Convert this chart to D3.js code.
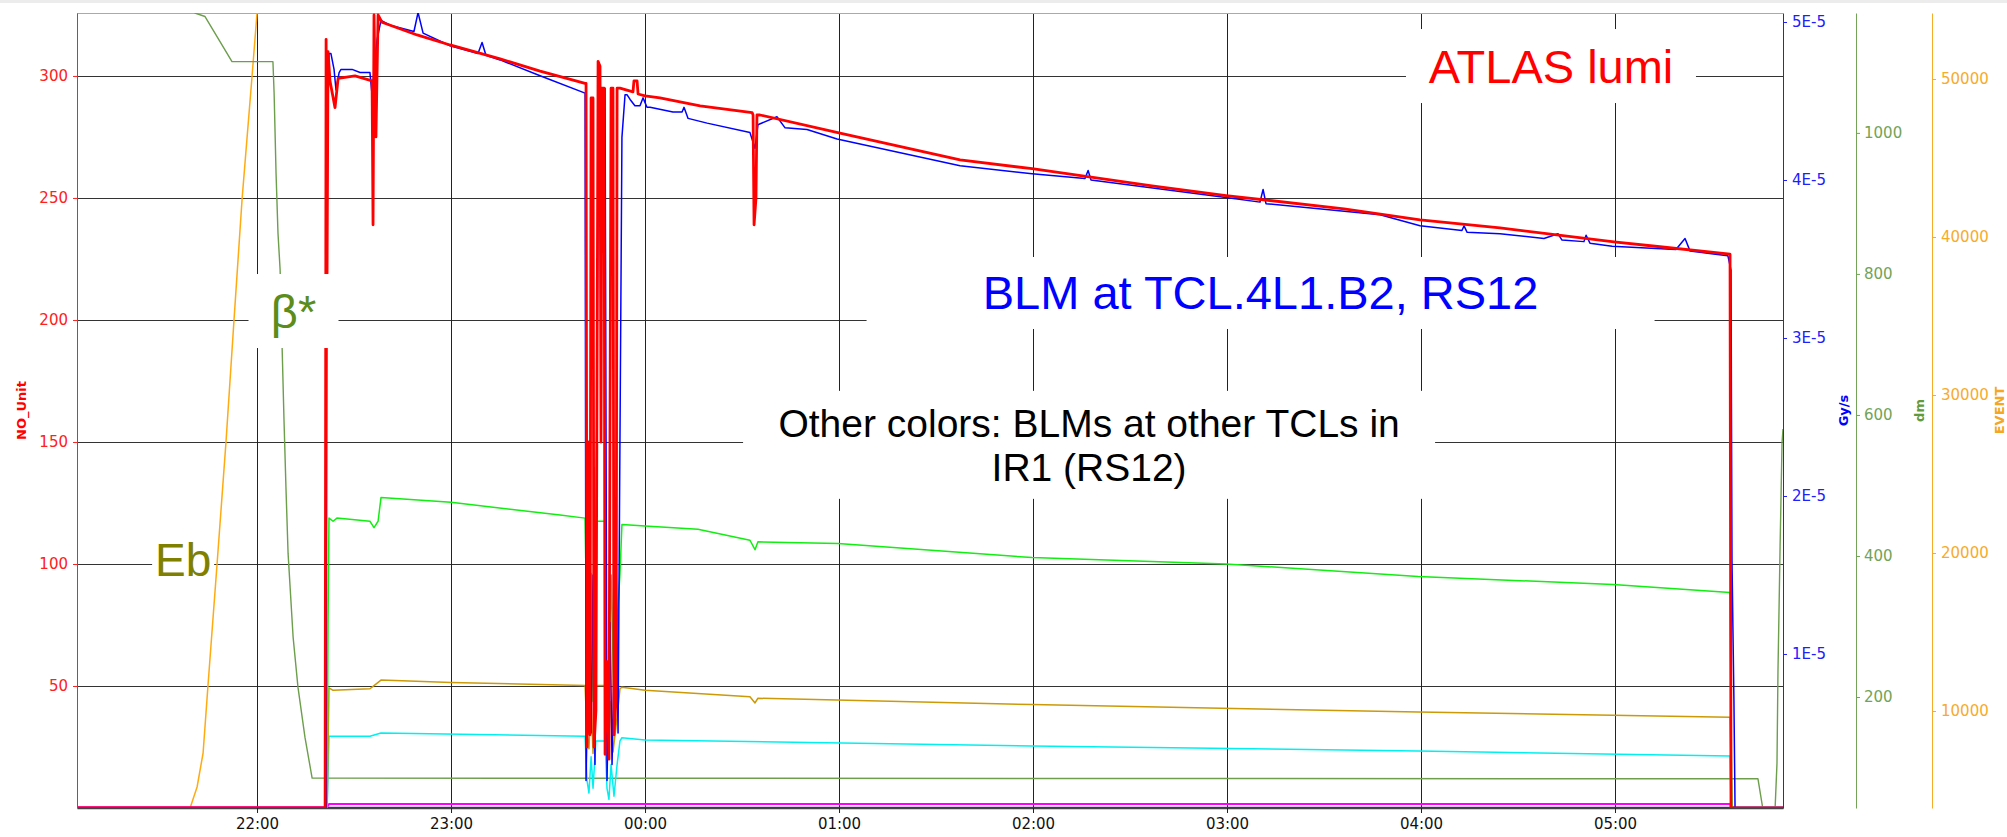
<!DOCTYPE html>
<html>
<head>
<meta charset="utf-8">
<script src="https://cdn.jsdelivr.net/npm/d3@7"></script>
<style>
  body { margin: 0; background: #fff; }
  svg { display: block; }
  .tick text { font-family: "DejaVu Sans", sans-serif; font-size: 15px; }
  .note { font-family: "Liberation Sans", Arial, sans-serif; }
  .axisTitle { font-family: "DejaVu Sans", sans-serif; font-size: 13px; font-weight: bold; }
</style>
</head>
<body>
<div id="chart"></div>
<script>
// Times are hours after midnight of the first day (24 = 00:00 next day)

// ATLAS lumi, NO_Unit (left axis)
var lumiData = [
  [21.072, 0], [22.351, 0], [22.356, 315], [22.361, 219], [22.366, 310], [22.376, 298],
  [22.402, 287], [22.418, 299], [22.505, 300], [22.593, 298], [22.598, 239], [22.603, 325],
  [22.613, 275], [22.624, 325], [22.644, 322], [22.825, 316.8], [22.995, 312.7], [23.253, 307],
  [23.459, 302], [23.691, 297], [23.696, 297], [23.701, 25], [23.711, 150], [23.716, 30],
  [23.722, 291], [23.732, 291], [23.737, 25], [23.747, 40], [23.758, 306], [23.768, 304],
  [23.773, 150], [23.778, 295], [23.789, 295], [23.794, 22], [23.804, 60], [23.814, 20],
  [23.825, 295], [23.835, 295], [23.840, 30], [23.851, 45], [23.856, 295], [23.871, 295],
  [23.938, 293.5], [23.943, 298], [23.959, 298], [23.964, 292.6], [24.000, 291.8], [24.077, 291],
  [24.284, 287.7], [24.552, 285], [24.557, 284], [24.562, 239], [24.572, 250], [24.577, 284],
  [24.593, 284], [25.005, 276.6], [25.624, 265.6], [25.995, 262], [26.613, 255], [26.995, 251],
  [27.603, 245.5], [27.995, 241], [28.407, 237.7], [28.995, 232], [29.232, 230], [29.593, 227],
  [29.598, 0], [29.866, 0]
];

// BLM at TCL.4L1.B2, in 1E-5 Gy/s (blue axis)
var blmMain = [
  [21.072, 0], [22.356, 0], [22.361, 3.66], [22.366, 4.55], [22.371, 4.80], [22.381, 4.80],
  [22.397, 4.70], [22.407, 4.57], [22.423, 4.68], [22.433, 4.70], [22.490, 4.70], [22.531, 4.68],
  [22.582, 4.68], [22.593, 4.54], [22.598, 4.62], [22.619, 4.89], [22.639, 5.01], [22.686, 4.98],
  [22.809, 4.94], [22.830, 5.06], [22.856, 4.93], [22.995, 4.85], [23.139, 4.80], [23.160, 4.87],
  [23.180, 4.79], [23.253, 4.76], [23.459, 4.66], [23.691, 4.55], [23.696, 0.2], [23.711, 1.2],
  [23.722, 0.5], [23.732, 1.5], [23.742, 0.3], [23.758, 4.0], [23.768, 4.58], [23.794, 4.58],
  [23.804, 0.2], [23.820, 1.2], [23.830, 0.3], [23.851, 1.6], [23.861, 0.5], [23.881, 4.27],
  [23.897, 4.54], [23.907, 4.54], [23.923, 4.51], [23.948, 4.47], [23.974, 4.47], [23.990, 4.52],
  [24.010, 4.46], [24.026, 4.46], [24.144, 4.43], [24.191, 4.43], [24.201, 4.46], [24.222, 4.39],
  [24.320, 4.36], [24.541, 4.30], [24.567, 4.20], [24.582, 4.35], [24.680, 4.40], [24.722, 4.33],
  [24.835, 4.32], [24.990, 4.26], [25.624, 4.09], [25.995, 4.04], [26.268, 4.01], [26.284, 4.06],
  [26.299, 4.00], [26.995, 3.89], [27.170, 3.86], [27.186, 3.94], [27.201, 3.85], [27.789, 3.78],
  [27.995, 3.71], [28.211, 3.68], [28.222, 3.71], [28.237, 3.67], [28.407, 3.66], [28.634, 3.63],
  [28.706, 3.66], [28.727, 3.62], [28.840, 3.61], [28.851, 3.65], [28.871, 3.60], [28.985, 3.58],
  [29.314, 3.56], [29.361, 3.63], [29.387, 3.55], [29.582, 3.52], [29.598, 3.43], [29.603, 1.59],
  [29.613, 0.71], [29.619, 0], [29.866, 0]
];

// BLMs at the other TCLs, in 1E-5 Gy/s (blue axis)
var blmGreen = [
  [21.072, 0], [22.361, 0], [22.366, 1.2], [22.371, 1.86], [22.392, 1.84], [22.412, 1.86],
  [22.582, 1.84], [22.603, 1.80], [22.624, 1.84], [22.639, 1.99], [23.000, 1.96], [23.562, 1.88],
  [23.691, 1.86], [23.701, 1.08], [23.711, 0.80], [23.722, 1.51], [23.732, 0.7], [23.747, 1.84],
  [23.794, 1.84], [23.799, 0.9], [23.809, 0.6], [23.825, 1.5], [23.840, 0.7], [23.856, 1.2],
  [23.871, 1.51], [23.881, 1.82], [24.000, 1.81], [24.273, 1.79], [24.541, 1.72], [24.567, 1.66],
  [24.582, 1.71], [24.995, 1.70], [25.995, 1.61], [26.995, 1.57], [27.985, 1.49], [28.990, 1.44],
  [29.593, 1.39], [29.603, 0], [29.866, 0]
];
var blmGold = [
  [21.072, 0], [22.361, 0], [22.371, 0.785], [22.392, 0.77], [22.582, 0.78], [22.603, 0.80],
  [22.639, 0.835], [23.000, 0.82], [23.691, 0.80], [23.701, 0.5], [23.711, 0.4], [23.722, 0.7],
  [23.732, 0.37], [23.747, 0.80], [23.794, 0.80], [23.804, 0.45], [23.820, 0.7], [23.835, 0.38],
  [23.856, 0.6], [23.871, 0.78], [23.881, 0.79], [24.000, 0.77], [24.541, 0.73], [24.567, 0.69],
  [24.582, 0.72], [25.995, 0.68], [27.985, 0.633], [29.593, 0.60], [29.598, 0.3], [29.603, 0],
  [29.866, 0]
];
var blmCyan = [
  [21.072, 0], [22.361, 0], [22.371, 0.48], [22.582, 0.48], [22.639, 0.50], [23.691, 0.48],
  [23.701, 0.2], [23.711, 0.12], [23.722, 0.35], [23.732, 0.15], [23.747, 0.45], [23.794, 0.45],
  [23.804, 0.15], [23.814, 0.08], [23.825, 0.3], [23.840, 0.1], [23.856, 0.3], [23.871, 0.45],
  [23.881, 0.47], [24.000, 0.456], [25.995, 0.418], [27.985, 0.386], [29.593, 0.354],
  [29.598, 0.03], [29.866, 0.03]
];
var blmMagenta = [
  [21.072, 0.03], [22.361, 0.03], [22.371, 0.05], [29.593, 0.05], [29.598, 0.03], [29.866, 0.03]
];
var blmViolet = [
  [21.072, 0.027], [29.866, 0.027]
];

// Beam energy Eb, EVENT (orange axis)
var energyData = [
  [21.072, 3861], [21.655, 3861], [21.691, 5190], [21.722, 7342], [21.747, 11582], [21.794, 19304],
  [21.840, 27025], [21.881, 34684], [21.923, 42405], [21.974, 50127], [22.000, 54177],
  [22.030, 65000], [29.866, 65000]
];

// beta*, dm (green axis)
var betaData = [
  [21.072, 1400], [21.655, 1200], [21.680, 1170], [21.732, 1165], [21.871, 1101], [22.082, 1101],
  [22.088, 1057], [22.093, 1000], [22.098, 943], [22.108, 858], [22.119, 806], [22.139, 593],
  [22.149, 498], [22.160, 404], [22.186, 285], [22.211, 214], [22.247, 143], [22.284, 85],
  [29.737, 84], [29.763, 40], [29.825, 40], [29.835, 106], [29.840, 234], [29.851, 413],
  [29.861, 560], [29.866, 580]
];

// Tick values of the four value axes
var leftTicks = [50, 100, 150, 200, 250, 300];
var blueTicks = [1, 2, 3, 4, 5];
var greenTicks = [200, 400, 600, 800, 1000];
var orangeTicks = [10000, 20000, 30000, 40000, 50000];

// Annotations placed in (time, NO_Unit) coordinates
var notes = [
  { lines: ["ATLAS lumi"], hour: 28.670, value: 297.1, color: "#ff0000", size: 47, halfWidth: 145, above: 54, below: 20 },
  { lines: ["BLM at TCL.4L1.B2, RS12"], hour: 27.173, value: 204.5, color: "#0000ff", size: 47, halfWidth: 394, above: 52, below: 20 },
  { lines: ["Other colors: BLMs at other TCLs in", "IR1 (RS12)"], hour: 26.289, value: 152.1, color: "#000000", size: 39, halfWidth: 346, above: 46, below: 62 },
  { lines: ["β*"], hour: 22.188, value: 196.7, color: "#5b8c1c", size: 47, halfWidth: 45, above: 54, below: 20 },
  { lines: ["Eb"], hour: 21.619, value: 95.1, color: "#808000", size: 46, halfWidth: 31, above: 40, below: 6 }
];

// SVG area and margins
var svgWidth = 2007;
var svgHeight = 837;
var chartMargin = { top: 13, right: 224, bottom: 29, left: 77 };
var chartWidth = svgWidth - chartMargin.left - chartMargin.right;
var chartHeight = svgHeight - chartMargin.top - chartMargin.bottom;

var baseDate = new Date(2018, 9, 24);
function toDate(h) { return new Date(baseDate.getTime() + h * 3600 * 1000); }

var svg = d3.select("#chart")
  .append("svg")
  .attr("width", svgWidth)
  .attr("height", svgHeight);

// thin grey strip along the top of the window
svg.append("rect")
  .attr("x", 0).attr("y", 0)
  .attr("width", svgWidth).attr("height", 3)
  .attr("fill", "#ececec");

var chartGroup = svg.append("g")
  .attr("transform", `translate(${chartMargin.left}, ${chartMargin.top})`);

// scales
var xScale = d3.scaleTime()
  .domain([toDate(21.072), toDate(29.866)])
  .range([0, chartWidth]);
var yLeft = d3.scaleLinear().domain([0, 325.8]).range([chartHeight, 0]);
var yBlue = d3.scaleLinear().domain([0.0253, 5.057]).range([chartHeight, 0]);
var yGreen = d3.scaleLinear().domain([42.6, 1170]).range([chartHeight, 0]);
var yOrange = d3.scaleLinear().domain([3861, 54177]).range([chartHeight, 0]);

var hourTicks = xScale.ticks(d3.timeHour.every(1));

// grid
var grid = chartGroup.append("g").attr("shape-rendering", "crispEdges");
grid.selectAll(".hgrid")
  .data(leftTicks)
  .enter()
  .append("line")
  .attr("x1", 0).attr("x2", chartWidth)
  .attr("y1", d => Math.round(yLeft(d)) + 0.5)
  .attr("y2", d => Math.round(yLeft(d)) + 0.5)
  .attr("stroke", "#333");
grid.selectAll(".vgrid")
  .data(hourTicks)
  .enter()
  .append("line")
  .attr("x1", d => Math.round(xScale(d)) + 0.5)
  .attr("x2", d => Math.round(xScale(d)) + 0.5)
  .attr("y1", 0).attr("y2", chartHeight)
  .attr("stroke", "#222");

// top border
chartGroup.append("line")
  .attr("x1", 0).attr("x2", chartWidth)
  .attr("y1", 0.5).attr("y2", 0.5)
  .attr("stroke", "#aaa");

// clip for the curves
chartGroup.append("clipPath")
  .attr("id", "plotClip")
  .append("rect")
  .attr("width", chartWidth)
  .attr("height", chartHeight);

var lines = chartGroup.append("g").attr("clip-path", "url(#plotClip)");

function drawLine(data, yScale, color, width) {
  var lineGen = d3.line()
    .x(d => xScale(toDate(d[0])))
    .y(d => yScale(d[1]));
  lines.append("path")
    .datum(data)
    .attr("d", lineGen)
    .attr("fill", "none")
    .attr("stroke", color)
    .attr("stroke-width", width)
    .attr("stroke-linejoin", "round");
}

drawLine(energyData, yOrange, "#ffaa10", 1.5);
drawLine(betaData, yGreen, "#6c9e4c", 1.4);
drawLine(blmViolet, yBlue, "#5a189a", 2);
drawLine(blmMagenta, yBlue, "#ff00ff", 2);
drawLine(blmCyan, yBlue, "#00f0f0", 1.5);
drawLine(blmGold, yBlue, "#cc9a06", 1.5);
drawLine(blmGreen, yBlue, "#11ee11", 1.5);
drawLine(blmMain, yBlue, "#0000ff", 1.5);
drawLine(lumiData, yLeft, "#ff0000", 2.8);

// axes
var bottomAxis = d3.axisBottom(xScale)
  .ticks(d3.timeHour.every(1))
  .tickFormat(d3.timeFormat("%H:%M"))
  .tickSize(5).tickSizeOuter(0).tickPadding(5);
var xAxisG = chartGroup.append("g")
  .attr("transform", `translate(0, ${chartHeight})`)
  .call(bottomAxis);
xAxisG.select(".domain").attr("stroke", "#444").attr("stroke-width", 1.5);
xAxisG.selectAll(".tick line").attr("stroke", "#222");
xAxisG.selectAll(".tick text").attr("fill", "#111");

function styleAxis(g, color) {
  g.select(".domain").attr("stroke", color);
  g.selectAll(".tick line").attr("stroke", color);
  g.selectAll(".tick text").attr("fill", color);
}

var plainFormat = d3.format("d");

var leftG = chartGroup.append("g")
  .call(d3.axisLeft(yLeft).tickValues(leftTicks).tickFormat(plainFormat)
    .tickSize(4).tickSizeOuter(0).tickPadding(5));
styleAxis(leftG, "#ff2020");

var blueG = chartGroup.append("g")
  .attr("transform", `translate(${chartWidth}, 0)`)
  .call(d3.axisRight(yBlue).tickValues(blueTicks).tickFormat(d => d + "E-5")
    .tickSize(4).tickSizeOuter(0).tickPadding(5));
styleAxis(blueG, "#2020ff");

var greenG = chartGroup.append("g")
  .attr("transform", `translate(${chartWidth + 73}, 0)`)
  .call(d3.axisRight(yGreen).tickValues(greenTicks).tickFormat(plainFormat)
    .tickSize(4).tickSizeOuter(0).tickPadding(4));
styleAxis(greenG, "#72a356");

var orangeG = chartGroup.append("g")
  .attr("transform", `translate(${chartWidth + 149}, 0)`)
  .call(d3.axisRight(yOrange).tickValues(orangeTicks).tickFormat(plainFormat)
    .tickSize(4).tickSizeOuter(0).tickPadding(5));
styleAxis(orangeG, "#f7ab2a");

// axis titles
var titles = [
  { text: "NO_Unit", x: 21, color: "#ff0000" },
  { text: "Gy/s", x: 1843, color: "#0000ff" },
  { text: "dm", x: 1919, color: "#5f9a3c" },
  { text: "EVENT", x: 1999, color: "#f5a623" }
];
svg.selectAll(".axisTitle")
  .data(titles)
  .enter()
  .append("text")
  .attr("class", "axisTitle")
  .attr("transform", d => `translate(${d.x}, ${chartMargin.top + chartHeight / 2}) rotate(-90)`)
  .attr("text-anchor", "middle")
  .attr("dominant-baseline", "central")
  .attr("fill", d => d.color)
  .text(d => d.text);

// annotations with white boxes, drawn over the curves
var noteG = chartGroup.selectAll(".note")
  .data(notes)
  .enter()
  .append("g")
  .attr("class", "note")
  .attr("transform", d => `translate(${xScale(toDate(d.hour))}, ${yLeft(d.value)})`);

noteG.append("rect")
  .attr("x", d => -d.halfWidth)
  .attr("y", d => -d.above)
  .attr("width", d => 2 * d.halfWidth)
  .attr("height", d => d.above + d.below)
  .attr("fill", "#fff");

noteG.each(function(d) {
  var t = d3.select(this).append("text")
    .attr("text-anchor", "middle")
    .attr("fill", d.color)
    .attr("font-size", d.size + "px");
  d.lines.forEach(function(line, i) {
    t.append("tspan")
      .attr("x", 0)
      .attr("y", i * d.size * 1.13)
      .text(line);
  });
});
</script>
</body>
</html>
